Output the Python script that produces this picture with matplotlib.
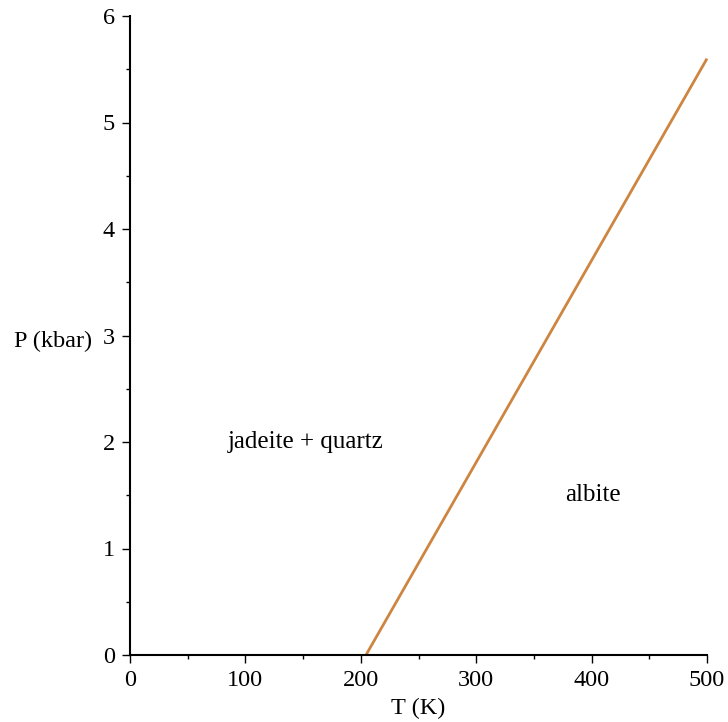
import numpy as np
import matplotlib.pyplot as plt
from matplotlib.ticker import MultipleLocator

# phase boundary jadeite + quartz = albite
T_LINE = [204.5, 500.0]
P_LINE = [0.0, 5.6]

LABELS = ["jadeite + quartz", "albite"]
LABEL_T = [152, 401]
LABEL_P = [2.0, 1.5]

plt.rcParams['font.family'] = ['Liberation Serif', 'DejaVu Serif']

FS = 17.5

fig = plt.figure(figsize=(7.28, 7.22), dpi=100)
ax = fig.add_axes([130 / 728, 1 - 655 / 722, 577 / 728, 639 / 722])

ax.plot(T_LINE, P_LINE, color='#CD853F', lw=2.0, solid_capstyle='butt', clip_on=False)

for lab, t, p in zip(LABELS, LABEL_T, LABEL_P):
    ax.text(t, p, lab, ha='center', va='center', fontsize=18)

ax.set_xlim(0, 500)
ax.set_ylim(0, 6)
ax.xaxis.set_major_locator(MultipleLocator(100))
ax.xaxis.set_minor_locator(MultipleLocator(50))
ax.yaxis.set_major_locator(MultipleLocator(1))
ax.yaxis.set_minor_locator(MultipleLocator(0.5))

for s in ['top', 'right']:
    ax.spines[s].set_visible(False)
for s in ['left', 'bottom']:
    ax.spines[s].set_linewidth(1.5)

ax.tick_params(which='major', direction='out', length=6, width=1, labelsize=FS, pad=5)
ax.tick_params(which='minor', direction='out', length=3, width=1)

ax.set_xlabel('T (K)', fontsize=FS, labelpad=5)
ax.set_ylabel('P (kbar)', fontsize=FS, rotation=0, ha='right', va='center')
ax.yaxis.set_label_coords(-0.065, 0.49)

fig.savefig('out.png', dpi=100)
